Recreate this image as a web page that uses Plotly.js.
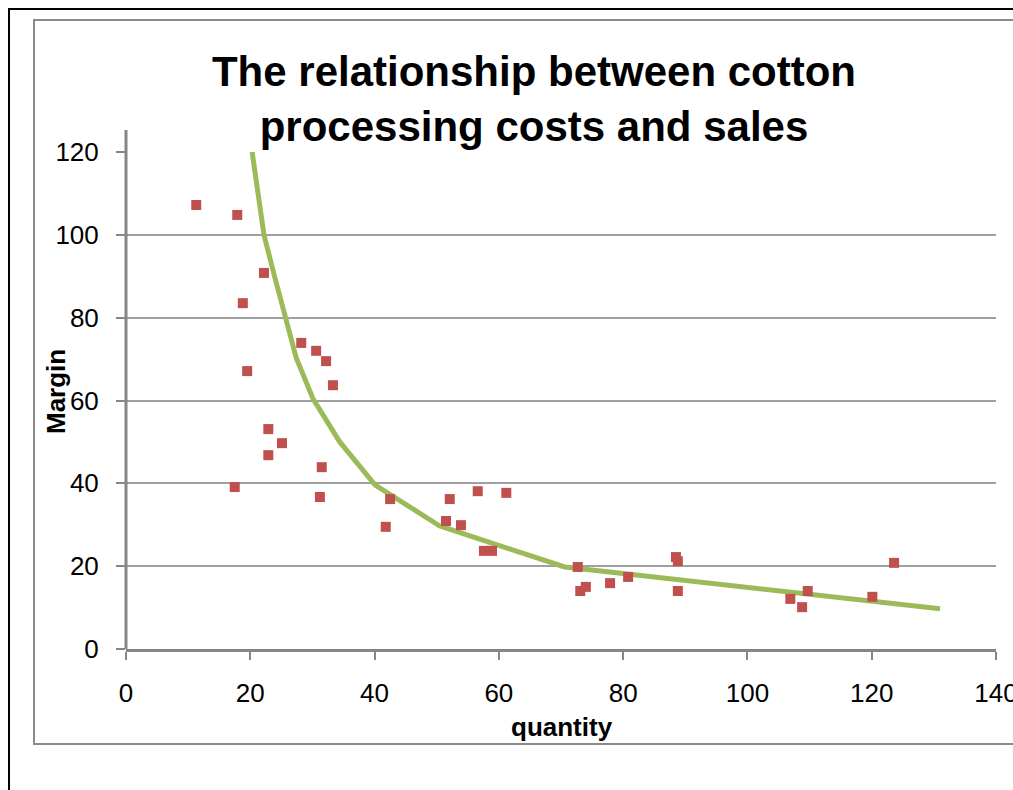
<!DOCTYPE html>
<html>
<head>
<meta charset="utf-8">
<script src="https://cdn.plot.ly/plotly-3.0.1.min.js"></script>
<style>html,body{margin:0;padding:0;background:#fff;}#chart{width:1013px;height:790px;}</style>
</head>
<body>
<div id="chart"></div>
<script>
// Scatter data: quantity vs margin
var quantity = [11.3, 17.9, 22.2, 18.8, 19.5, 28.2, 30.6, 32.2, 33.3, 22.9, 22.9, 25.1, 17.5, 31.5, 31.2,
                42.5, 41.8, 52.1, 56.6, 61.2, 51.5, 53.9, 57.6, 58.9, 72.7, 73.1, 74.0, 77.9, 80.8,
                88.5, 88.8, 88.8, 106.9, 108.8, 109.7, 120.1, 123.6];
var margin = [107.2, 104.8, 90.8, 83.5, 67.1, 73.9, 72.0, 69.5, 63.7, 53.1, 46.8, 49.7, 39.1, 43.9, 36.7,
              36.2, 29.5, 36.2, 38.1, 37.7, 30.9, 29.9, 23.7, 23.7, 19.8, 14.0, 15.0, 15.9, 17.4,
              22.2, 21.2, 14.0, 12.1, 10.1, 14.0, 12.6, 20.8];
// Fitted curve
var curveX = [20.3, 22.2, 23.9, 27.4, 30.1, 34.4, 40.1, 50.5, 70.6, 131];
var curveY = [120, 100, 90, 70.3, 60.4, 50, 39.6, 29.7, 19.8, 9.7];
var xTicks = [0, 20, 40, 60, 80, 100, 120, 140];
var yTicks = [0, 20, 40, 60, 80, 100, 120];
var titleText = 'The relationship between cotton<br>processing costs and sales';
var xTitle = 'quantity';
var yTitle = 'Margin';

var W = 1013, H = 790, L = 126, R = 996, T = 152, B = 649;
function px(x){ return (x - L) / (R - L); }
function py(y){ return (B - y) / (B - T); }
var FONT = '"Liberation Sans Narrow", "Liberation Sans", Arial, sans-serif';

var traces = [
  {x: curveX, y: curveY, mode: 'lines', type: 'scatter',
   line: {color: '#9BBB59', width: 5}, hoverinfo: 'skip', showlegend: false},
  {x: quantity, y: margin, mode: 'markers', type: 'scatter',
   marker: {symbol: 'square', size: 10, color: '#C0504D'}, showlegend: false, cliponaxis: false}
];

var layout = {
  width: W, height: H,
  margin: {l: L, r: W - R, t: T, b: H - B, pad: 0},
  paper_bgcolor: '#ffffff', plot_bgcolor: '#ffffff',
  showlegend: false,
  font: {family: FONT, size: 26, color: '#000'},
  title: {text: titleText, x: 534 / W, xanchor: 'center', y: 1 - 86 / H, yanchor: 'middle',
          xref: 'container', yref: 'container',
          font: {family: FONT, size: 42, color: '#000', weight: 'bold'}},
  xaxis: {range: [0, 140], tickvals: xTicks, ticktext: xTicks.map(String),
          showgrid: false, zeroline: false, showline: true, linecolor: '#868686', linewidth: 3,
          ticks: 'outside', ticklen: 8, tickwidth: 2, tickcolor: '#868686',
          ticklabelstandoff: 11, ticklabeloverflow: 'allow',
          tickfont: {family: FONT, size: 26, color: '#000'}, fixedrange: true},
  yaxis: {range: [0, 120], tickvals: yTicks, ticktext: yTicks.map(String),
          showgrid: true, gridcolor: '#a0a0a0', gridwidth: 2, zeroline: false,
          showline: false,
          ticks: 'outside', ticklen: 9, tickwidth: 2, tickcolor: '#868686',
          ticklabelstandoff: 12,
          tickfont: {family: FONT, size: 26, color: '#000'}, fixedrange: true},
  annotations: [
    {text: '<b>' + xTitle + '</b>', xref: 'paper', yref: 'paper', x: px(562), y: py(727),
     xanchor: 'center', yanchor: 'middle', showarrow: false,
     font: {family: FONT, size: 26, color: '#000'}},
    {text: '<b>' + yTitle + '</b>', xref: 'paper', yref: 'paper', x: px(56), y: py(392),
     xanchor: 'center', yanchor: 'middle', showarrow: false, textangle: -90,
     font: {family: FONT, size: 26, color: '#000'}}
  ],
  shapes: [
    {type: 'rect', xref: 'paper', yref: 'paper', x0: px(9), x1: px(1040), y0: py(830), y1: py(9),
     line: {color: '#000', width: 2}, layer: 'below'},
    {type: 'rect', xref: 'paper', yref: 'paper', x0: px(34), x1: px(1040), y0: py(744), y1: py(20),
     line: {color: '#8a8a8a', width: 2}, layer: 'below'},
    {type: 'line', xref: 'paper', yref: 'paper', x0: 0, x1: 0, y0: 0, y1: py(130),
     line: {color: '#868686', width: 3}, layer: 'above'}
  ]
};

Plotly.newPlot('chart', traces, layout, {staticPlot: true, displayModeBar: false});
</script>
</body>
</html>
